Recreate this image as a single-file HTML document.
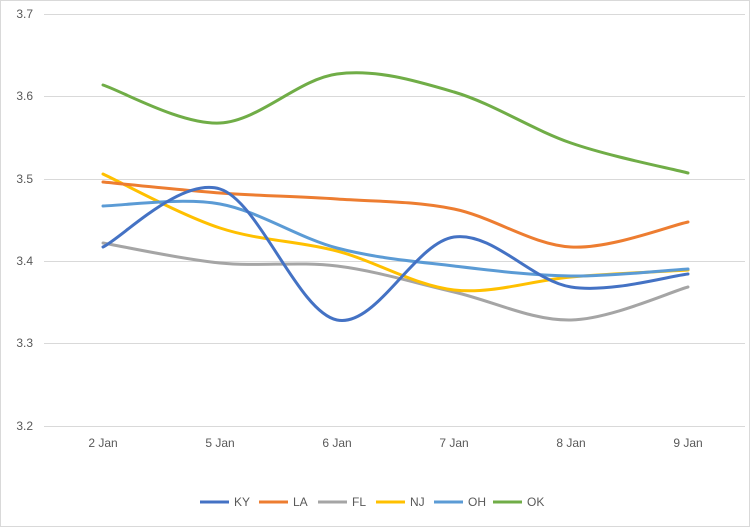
<!DOCTYPE html>
<html><head><meta charset="utf-8"><style>
body{margin:0;background:#fff;}
svg{display:block;font-family:"Liberation Sans",sans-serif;}
</style></head><body>
<svg id="c" width="750" height="527" xmlns="http://www.w3.org/2000/svg">
<rect x="0.5" y="0.5" width="749" height="526" fill="#fff" stroke="#d9d9d9"/>
<g stroke="#d9d9d9" stroke-width="1">
<line x1="44" x2="745" y1="14.5" y2="14.5"/>
<line x1="44" x2="745" y1="96.5" y2="96.5"/>
<line x1="44" x2="745" y1="179.5" y2="179.5"/>
<line x1="44" x2="745" y1="261.5" y2="261.5"/>
<line x1="44" x2="745" y1="343.5" y2="343.5"/>
<line x1="44" x2="745" y1="426.5" y2="426.5"/>
</g>
<g fill="#595959" font-size="12" text-anchor="end">
<text x="33" y="18">3.7</text><text x="33" y="100">3.6</text><text x="33" y="183">3.5</text>
<text x="33" y="265">3.4</text><text x="33" y="347">3.3</text><text x="33" y="430">3.2</text>
</g>
<g fill="#595959" font-size="12" text-anchor="middle">
<text x="103" y="447">2 Jan</text><text x="220" y="447">5 Jan</text><text x="337" y="447">6 Jan</text>
<text x="454" y="447">7 Jan</text><text x="571" y="447">8 Jan</text><text x="688" y="447">9 Jan</text>
</g>
<g id="series" fill="none" stroke-width="3" stroke-linecap="round"></g>
<g font-size="12" fill="#595959" stroke-width="3">
<line x1="200" x2="229" y1="502" y2="502" stroke="#4472C4"/><text x="234" y="506">KY</text>
<line x1="259" x2="288" y1="502" y2="502" stroke="#ED7D31"/><text x="293" y="506">LA</text>
<line x1="318" x2="347" y1="502" y2="502" stroke="#A5A5A5"/><text x="352" y="506">FL</text>
<line x1="376" x2="405" y1="502" y2="502" stroke="#FFC000"/><text x="410" y="506">NJ</text>
<line x1="434" x2="463" y1="502" y2="502" stroke="#5B9BD5"/><text x="468" y="506">OH</text>
<line x1="493" x2="522" y1="502" y2="502" stroke="#70AD47"/><text x="527" y="506">OK</text>
</g>
</svg>
<script>
var xs=[103,220,337,454,571,688];
var data=[
["#A5A5A5",[243,263,266,292,320,287]],
["#FFC000",[174,228,251,290,277,270]],
["#5B9BD5",[206,204,248,266,276,269]],
["#ED7D31",[182,193,199,209,247,222]],
["#4472C4",[247,189,320,237,287,274]],
["#70AD47",[85,123,74,92,143,173]]];
var g=document.getElementById('series');
data.forEach(function(s){
 var p=s[1].map(function(y,i){return [xs[i],y];});
 var d='M'+p[0][0]+','+p[0][1];
 for(var i=0;i<p.length-1;i++){
  var p0=p[i-1]||p[i],p1=p[i],p2=p[i+1],p3=p[i+2]||p2;
  var c1=[p1[0]+(p2[0]-p0[0])/6,p1[1]+(p2[1]-p0[1])/6];
  var c2=[p2[0]-(p3[0]-p1[0])/6,p2[1]-(p3[1]-p1[1])/6];
  d+=' C'+c1+' '+c2+' '+p2;
 }
 var e=document.createElementNS('http://www.w3.org/2000/svg','path');
 e.setAttribute('d',d);e.setAttribute('stroke',s[0]);g.appendChild(e);
});
</script>
</body></html>
